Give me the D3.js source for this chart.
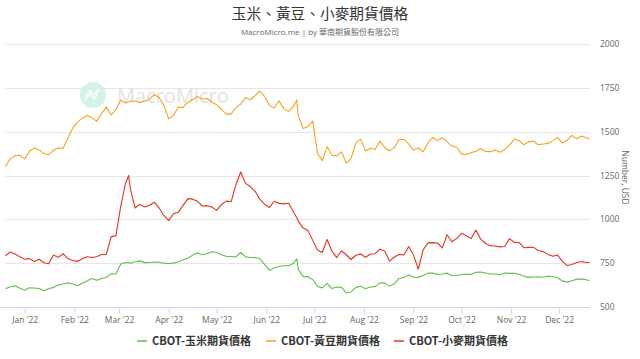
<!DOCTYPE html>
<html>
<head>
<meta charset="utf-8">
<script src="https://cdn.jsdelivr.net/npm/d3@7/dist/d3.min.js"></script>
<style>
  html, body { margin: 0; padding: 0; background: #fff; }
  svg { display: block; font-family: "Open Sans", "Noto Sans CJK TC", sans-serif; }
</style>
</head>
<body>
<svg id="chart" width="640" height="359"></svg>
<script>
const dates = [
  "2021-12-20","2021-12-23","2021-12-26","2021-12-29",
  "2022-01-01","2022-01-04","2022-01-07","2022-01-10","2022-01-13","2022-01-16","2022-01-19","2022-01-22","2022-01-25","2022-01-28","2022-01-31",
  "2022-02-03","2022-02-06","2022-02-09","2022-02-12","2022-02-15","2022-02-18","2022-02-21","2022-02-24","2022-02-27",
  "2022-03-02","2022-03-05","2022-03-07","2022-03-08","2022-03-11","2022-03-14","2022-03-17","2022-03-20","2022-03-23","2022-03-26","2022-03-29",
  "2022-04-01","2022-04-04","2022-04-07","2022-04-10","2022-04-13","2022-04-16","2022-04-19","2022-04-22","2022-04-25","2022-04-28",
  "2022-05-01","2022-05-04","2022-05-07","2022-05-10","2022-05-13","2022-05-16","2022-05-19","2022-05-22","2022-05-25","2022-05-28","2022-05-31",
  "2022-06-03","2022-06-06","2022-06-09","2022-06-12","2022-06-15","2022-06-18","2022-06-20","2022-06-21","2022-06-24","2022-06-27","2022-06-30",
  "2022-07-03","2022-07-06","2022-07-09","2022-07-12","2022-07-15","2022-07-18","2022-07-21","2022-07-24","2022-07-27","2022-07-30",
  "2022-08-02","2022-08-05","2022-08-08","2022-08-11","2022-08-14","2022-08-17","2022-08-20","2022-08-23","2022-08-26","2022-08-29",
  "2022-09-01","2022-09-04","2022-09-07","2022-09-10","2022-09-13","2022-09-16","2022-09-19","2022-09-22","2022-09-25","2022-09-28",
  "2022-10-01","2022-10-04","2022-10-07","2022-10-10","2022-10-13","2022-10-16","2022-10-19","2022-10-22","2022-10-25","2022-10-28","2022-10-31",
  "2022-11-03","2022-11-06","2022-11-09","2022-11-12","2022-11-15","2022-11-18","2022-11-21","2022-11-24","2022-11-27","2022-11-30",
  "2022-12-03","2022-12-06","2022-12-09","2022-12-12","2022-12-15","2022-12-18","2022-12-20"
];

const soybean = [
  1300,1345,1364,1364,
  1345,1388,1407,1396,1375,1367,1395,1407,1405,1462,1520,
  1556,1577,1592,1580,1559,1602,1640,1595,1625,
  1680,1663,1670,1675,1675,1666,1675,1685,1712,1695,1650,
  1573,1592,1640,1638,1668,1684,1700,1686,1689,1668,
  1654,1627,1600,1600,1638,1657,1695,1682,1705,1732,1700,
  1650,1635,1676,1630,1615,1646,1680,1590,1518,1530,1560,
  1376,1335,1415,1365,1362,1385,1320,1348,1437,1456,
  1390,1405,1398,1446,1410,1390,1409,1455,1455,1430,
  1395,1407,1385,1436,1468,1449,1467,1442,1418,1411,
  1372,1370,1380,1389,1402,1387,1386,1395,1383,1398,1423,
  1457,1450,1425,1442,1447,1425,1430,1433,1449,1466,
  1436,1450,1479,1460,1475,1465,1458
];

const wheat = [
  792,814,802,786,
  772,776,760,772,752,747,797,783,804,776,765,
  760,775,787,782,787,799,800,900,907,
  1072,1205,1250,1175,1065,1085,1070,1080,1097,1065,1022,
  993,1032,1040,1080,1118,1115,1103,1076,1078,1070,
  1051,1085,1104,1100,1197,1270,1205,1187,1160,1114,1085,
  1068,1103,1091,1088,1092,1042,1010,990,950,936,880,
  825,811,885,818,782,820,798,771,795,803,
  784,801,804,830,819,762,785,800,797,845,
  797,715,825,866,867,865,837,912,872,890,
  920,906,890,939,887,862,850,848,843,845,890,
  868,868,838,840,840,822,816,800,789,797,
  760,737,742,754,760,754,754
];

const corn = [
  604,615,621,607,
  596,610,608,605,593,604,612,625,631,638,631,
  621,636,648,662,652,663,668,690,688,
  745,754,752,749,758,763,753,754,757,755,750,
  748,750,758,769,778,796,808,798,805,815,
  811,798,789,788,786,811,786,782,782,775,742,
  710,724,731,735,735,750,775,715,673,673,657,
  617,609,635,605,614,612,580,586,612,619,
  604,614,616,638,636,619,633,663,669,683,
  670,669,680,693,694,686,688,693,678,680,
  685,687,686,698,700,694,688,688,684,694,692,
  692,686,675,669,671,672,670,675,674,667,
  649,642,650,659,659,655,650
];

const yTicks = [500, 750, 1000, 1250, 1500, 1750, 2000];
const seriesNames = ["CBOT-玉米期貨價格", "CBOT-黃豆期貨價格", "CBOT-小麥期貨價格"];
const seriesColors = ["#5ebf49", "#f6a31c", "#e6321d"];
const seriesValues = [corn, soybean, wheat];

const parse = d3.timeParse("%Y-%m-%d");
const dateObjs = dates.map(parse);

const svg = d3.select("#chart");
const plot = { left: 5.5, right: 589.5, top: 44, bottom: 307 };

const x = d3.scaleTime()
  .domain([dateObjs[0], dateObjs[dateObjs.length - 1]])
  .range([plot.left, plot.right]);
const y = d3.scaleLinear().domain([500, 2000]).range([plot.bottom, plot.top]);

// Title
svg.append("text").attr("x", 320).attr("y", 19).attr("text-anchor", "middle")
  .style("font-family", "'Noto Sans CJK TC', sans-serif")
  .style("font-size", "14.7px").style("fill", "#333").text("玉米、黃豆、小麥期貨價格");
svg.append("text").attr("x", 320).attr("y", 34.5).attr("text-anchor", "middle")
  .style("font-family", "'Open Sans', 'Noto Sans CJK TC', sans-serif")
  .style("font-size", "8px").style("fill", "#666").text("MacroMicro.me | by 華南期貨股份有限公司");

// Watermark
const wm = svg.append("g");
wm.append("circle").attr("cx", 93).attr("cy", 95).attr("r", 13).attr("fill", "#d3f3ea");
wm.append("path")
  .attr("d", "M85,101 L90,93 L94,99 L99,91 M85,97 L90,90 L94,95 L99,88")
  .attr("fill", "none").attr("stroke", "#fff").attr("stroke-width", 1.3);
wm.append("text").attr("x", 117).attr("y", 103)
  .style("font-family", "'Open Sans', sans-serif").style("font-size", "20px")
  .style("fill", "#e2e2e2").text("MacroMicro");

// Grid lines
svg.append("g").selectAll("line").data(yTicks.filter(t => t !== 500)).join("line")
  .attr("x1", plot.left).attr("x2", 590)
  .attr("y1", d => Math.round(y(d)) + 0.5).attr("y2", d => Math.round(y(d)) + 0.5)
  .attr("stroke", "#e6e6e6").attr("stroke-width", 1);

// Y labels (right)
svg.append("g").selectAll("text").data(yTicks).join("text")
  .attr("x", 600).attr("y", d => y(d) + 3)
  .style("font-size", "8.5px").style("fill", "#666").text(d => d);

// Y axis title
svg.append("text")
  .attr("transform", `translate(622, ${(plot.top + plot.bottom) / 2 + 2}) rotate(90)`)
  .attr("text-anchor", "middle")
  .style("font-size", "8.5px").style("fill", "#666").text("Number, USD");

// X axis
const xAxis = d3.axisBottom(x)
  .ticks(d3.timeMonth.every(1))
  .tickFormat(d3.timeFormat("%b '%y"))
  .tickSize(6).tickPadding(3).tickSizeOuter(0);
const gx = svg.append("g").attr("transform", `translate(0, ${Math.round(plot.bottom) + 0.5})`).call(xAxis);
gx.select(".domain").attr("stroke", "#ccd6eb").attr("d", `M0,0H590`);
gx.selectAll(".tick line").attr("stroke", "#ccd6eb");
gx.selectAll(".tick text").style("font-size", "8.5px").style("fill", "#666")
  .style("font-family", "'Open Sans', sans-serif");
gx.selectAll(".tick").filter(d => d < x.domain()[0] || d > x.domain()[1]).remove();

// Lines
const line = d3.line().x((d, i) => x(dateObjs[i])).y(d => y(d));
const order = [1, 2, 0];
order.forEach(k => {
  svg.append("path").datum(seriesValues[k])
    .attr("d", line).attr("fill", "none")
    .attr("stroke", seriesColors[k]).attr("stroke-width", 1.1)
    .attr("stroke-linejoin", "round");
});

// Legend
const legendX = [137, 266, 394];
const lg = svg.append("g");
seriesNames.forEach((name, i) => {
  const g = lg.append("g").attr("transform", `translate(${legendX[i]}, 341)`);
  g.append("line").attr("x1", 0).attr("x2", 10).attr("y1", 0).attr("y2", 0)
    .attr("stroke", seriesColors[i]).attr("stroke-width", 1.5);
  g.append("text").attr("x", 15).attr("y", 4)
    .style("font-family", "'Noto Sans CJK TC', sans-serif")
    .style("font-size", "11px").style("font-weight", "bold").style("fill", "#333")
    .text(name);
});
</script>
</body>
</html>
